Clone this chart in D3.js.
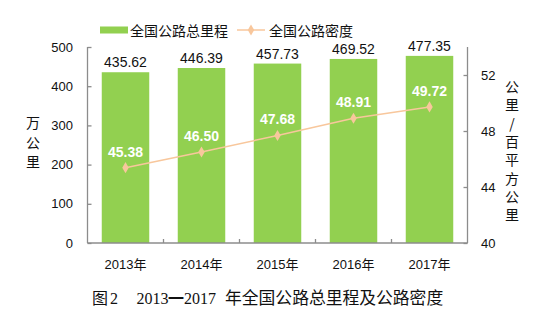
<!DOCTYPE html>
<html>
<head>
<meta charset="utf-8">
<script src="https://cdn.jsdelivr.net/npm/d3@7/dist/d3.min.js"></script>
<style>
  html, body { margin: 0; padding: 0; background: #fff; }
  svg { display: block; }
  text { font-family: "Liberation Sans", Arial, "Noto Sans CJK SC", sans-serif; }
</style>
</head>
<body>
<svg id="chart" width="550" height="323"></svg>
<script>
// Road network data, 2013–2017
const years = ["2013年", "2014年", "2015年", "2016年", "2017年"];
const mileage = [435.62, 446.39, 457.73, 469.52, 477.35];   // 万公里
const density = [45.38, 46.50, 47.68, 48.91, 49.72];       // 公里/百平方公里
const leftTicks = [0, 100, 200, 300, 400, 500];
const rightTicks = [40, 44, 48, 52];

const barColor = "#92d050";
const lineColor = "#f8c79c";
const axisColor = "#8c8c8c";
const cjk = "'Noto Sans CJK SC', sans-serif";
const serif = "'Liberation Serif', 'Times New Roman', serif";

const svg = d3.select("#chart");
const plotL = 87.5, plotR = 467.5, plotT = 47, plotB = 243;

const x = d3.scaleBand().domain(years).range([plotL, plotR]).paddingInner(0.375).paddingOuter(0.1875);
const yL = d3.scaleLinear().domain([0, 500]).range([plotB, plotT]);
const yR = d3.scaleLinear().domain([40, 54]).range([plotB, plotT]);

// Bars
svg.append("g").selectAll("rect").data(mileage).join("rect")
  .attr("x", (d, i) => x(years[i]))
  .attr("y", d => yL(d))
  .attr("width", x.bandwidth())
  .attr("height", d => yL(0) - yL(d))
  .attr("fill", barColor);

// Bar value labels
svg.append("g").selectAll("text").data(mileage).join("text")
  .attr("x", (d, i) => x(years[i]) + x.bandwidth() / 2)
  .attr("y", d => yL(d) - 5)
  .attr("text-anchor", "middle")
  .attr("font-size", 14)
  .attr("fill", "#111")
  .text(d => d.toFixed(2));

// Left axis
const gL = svg.append("g").attr("transform", `translate(${plotL},0)`)
  .call(d3.axisRight(yL).tickValues(leftTicks).tickSize(4).tickFormat(""));
gL.selectAll("path, line").attr("stroke", axisColor).attr("stroke-width", 1.3);
gL.select(".domain").attr("d", `M0,${plotT}V${plotB}`);
svg.append("g").selectAll("text").data(leftTicks).join("text")
  .attr("x", 73).attr("y", d => yL(d) + 4.5)
  .attr("text-anchor", "end").attr("font-size", 13).attr("fill", "#111")
  .text(d => d);

// Right axis
const gR = svg.append("g").attr("transform", `translate(${plotR},0)`)
  .call(d3.axisLeft(yR).tickValues(rightTicks).tickSize(4).tickFormat(""));
gR.selectAll("path, line").attr("stroke", axisColor).attr("stroke-width", 1.3);
gR.select(".domain").attr("d", `M0,${plotT}V${plotB}`);
svg.append("g").selectAll("text").data(rightTicks).join("text")
  .attr("x", 481).attr("y", d => yR(d) + 4.5)
  .attr("text-anchor", "start").attr("font-size", 13).attr("fill", "#111")
  .text(d => d);

// Bottom axis: baseline with ticks between categories
const gB = svg.append("g");
gB.append("line").attr("x1", plotL).attr("x2", plotR).attr("y1", plotB).attr("y2", plotB)
  .attr("stroke", axisColor).attr("stroke-width", 1.3);
const step = x.step();
gB.selectAll("line.tick").data(years.slice(1)).join("line")
  .attr("class", "tick")
  .attr("x1", d => x(d) - x.paddingInner() * step / 2)
  .attr("x2", d => x(d) - x.paddingInner() * step / 2)
  .attr("y1", plotB).attr("y2", plotB - 4)
  .attr("stroke", axisColor).attr("stroke-width", 1.3);
gB.selectAll("text").data(years).join("text")
  .attr("x", d => x(d) + x.bandwidth() / 2)
  .attr("y", 269)
  .attr("text-anchor", "middle").attr("font-size", 13).attr("fill", "#111")
  .text(d => d);

// Density line
const pts = density.map((d, i) => [x(years[i]) + x.bandwidth() / 2, yR(d)]);
svg.append("path").attr("d", d3.line()(pts))
  .attr("fill", "none").attr("stroke", lineColor).attr("stroke-width", 1.5);
const diamond = d3.symbol().type(d3.symbolDiamond).size(36);
svg.append("g").selectAll("path").data(pts).join("path")
  .attr("transform", d => `translate(${d[0]},${d[1]})`)
  .attr("d", diamond).attr("fill", lineColor);
svg.append("g").selectAll("text").data(density).join("text")
  .attr("x", (d, i) => pts[i][0])
  .attr("y", d => yR(d) - 11)
  .attr("text-anchor", "middle").attr("font-size", 14).attr("font-weight", "bold")
  .attr("fill", "#fff")
  .text(d => d.toFixed(2));

// Axis titles (vertical, one character per row)
const leftTitle = "万公里".split("");
svg.append("g").selectAll("text").data(leftTitle).join("text")
  .attr("x", 33).attr("y", (d, i) => 128 + i * 19.5)
  .attr("text-anchor", "middle").attr("font-size", 14).attr("fill", "#111")
  .style("font-family", cjk)
  .text(d => d);
const rightTitle = ["公", "里", "/", "百", "平", "方", "公", "里"];
svg.append("g").selectAll("text").data(rightTitle).join("text")
  .attr("x", 512).attr("y", (d, i) => 92 + i * 18.3)
  .attr("text-anchor", "middle").attr("font-size", 14).attr("fill", "#111")
  .style("font-family", cjk)
  .text(d => d);

// Legend
const lg = svg.append("g");
lg.append("rect").attr("x", 100).attr("y", 26.5).attr("width", 28).attr("height", 7).attr("fill", barColor);
lg.append("text").attr("x", 130).attr("y", 35.5).attr("font-size", 14).attr("fill", "#111")
  .style("font-family", cjk).text("全国公路总里程");
lg.append("line").attr("x1", 237).attr("x2", 265).attr("y1", 30).attr("y2", 30)
  .attr("stroke", lineColor).attr("stroke-width", 1.5);
lg.append("path").attr("transform", "translate(251,30)").attr("d", diamond).attr("fill", lineColor);
lg.append("text").attr("x", 269).attr("y", 35.5).attr("font-size", 14).attr("fill", "#111")
  .style("font-family", cjk).text("全国公路密度");

// Caption
const cap = svg.append("text").attr("y", 304).attr("fill", "#111");
cap.append("tspan").attr("x", 92).attr("font-size", 16).style("font-family", cjk).text("图");
cap.append("tspan").attr("x", 110).attr("font-size", 16).style("font-family", serif).text("2");
cap.append("tspan").attr("x", 136.5).attr("font-size", 16).style("font-family", serif).text("2013");
cap.append("tspan").attr("x", 168).attr("font-size", 16).attr("font-weight", "bold").style("font-family", cjk).text("一");
cap.append("tspan").attr("x", 184).attr("font-size", 16).style("font-family", serif).text("2017");
cap.append("tspan").attr("x", 225).attr("font-size", 16.8).style("font-family", cjk).text("年全国公路总里程及公路密度");
</script>
</body>
</html>
